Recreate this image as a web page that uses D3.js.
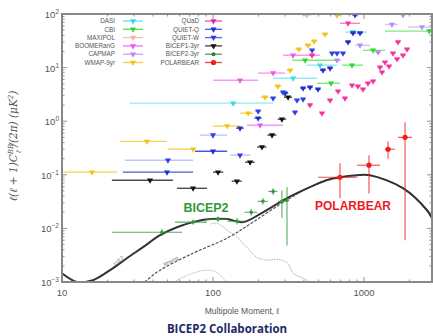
<!DOCTYPE html>
<html>
<head>
<meta charset="utf-8">
<script src="https://cdn.jsdelivr.net/npm/d3@7"></script>
<style>
  body { margin: 0; background: #fff; }
  svg { display: block; font-family: "Liberation Sans", Arial, sans-serif; }
</style>
</head>
<body>
<svg id="chart" width="433" height="336"></svg>
<script>
// upper limits, each point: [ell, value (uK^2), ellLo, ellHi]
var dasi = [[136, 2.17, 28, 250], [339, 6.34, 250, 489], [511, 11.1, 419, 663], [846, 46, 748, 1047]];
var cbi = [[407, 13.7, 334, 693], [605, 5.1, 489, 693], [833, 11.1, 715, 985], [1148, 21, 985, 1377], [2700, 48, 1377, 3500]];
var maxipol = [[419, 96, 390, 450]];
var boomerang = [[151, 5.8, 100, 199], [205, 0.84, 168, 291], [250, 7.9, 199, 300], [339, 17, 291, 511]];
var capmap = [[663, 13.7, 630, 700], [941, 26, 872, 1096], [1239, 19.4, 1180, 1300], [1532, 64, 1377, 1680], [2422, 57, 1956, 2820], [1812, 96, 1750, 1880]];
var wmap = [[15.8, 0.112, 10.2, 23.1], [36.5, 0.42, 24.2, 49.6], [73.8, 0.30, 50.3, 76.1], [124, 0.81, 100, 151],
  [171, 1.41, 151, 184], [221, 2.8, 208, 234], [269, 4.5, 255, 284], [324, 8.9, 308, 340], [370, 22, 352, 388],
  [426, 26, 406, 446], [467, 31, 446, 490], [552, 42, 527, 578], [663, 95, 635, 693]];
var quad = [[439, 2.0], [527, 1.41], [596, 2.46], [673, 3.63], [748, 2.69], [833, 4.7], [912, 4.5], [985, 3.95],
  [1062, 5.12], [1148, 5.57], [1276, 10.2], [1316, 8.2], [1377, 12.6], [1465, 10.6], [1556, 18.6], [1655, 14.4],
  [1812, 17], [1927, 22], [1680, 30], [453, 17], [784, 67, 693, 941]];
var quietQ = [[49.6, 0.112, 25.3, 73.8], [100, 0.275, 76, 124], [151, 0.74, 142, 160], [199, 1.14, 188, 210],
  [300, 3.33, 285, 315], [395, 4.13, 378, 412], [439, 4.31, 420, 458], [496, 3.95, 475, 517], [535, 8.9, 512, 558],
  [596, 9.75, 570, 622], [784, 30, 750, 820], [846, 44, 810, 884], [941, 44, 900, 984], [872, 96, 835, 910]];
var quietW = [[50.3, 0.187, 26.1, 73.8], [100, 0.55, 82, 124], [151, 0.232, 130, 176], [199, 1.54, 188, 210],
  [250, 2.69, 238, 262], [291, 3.48, 277, 305], [360, 2.46, 344, 376], [395, 2.57, 378, 412], [349, 1.47, 334, 364],
  [453, 21, 434, 472], [614, 18.6, 590, 640], [663, 18.6, 637, 690], [726, 18.6, 698, 756]];
var bicep1 = [[38.3, 0.079, 21.4, 54.3], [73.8, 0.056, 57.8, 91.3], [108, 0.112, 100, 117], [144, 0.076, 133, 155],
  [176, 0.172, 163, 189], [211, 0.33, 196, 226], [246, 0.55, 229, 263], [286, 1.09, 268, 305], [314, 2.8, 295, 334]];

// detections: [ell, value, valueLo, valueHi, ellLo, ellHi]
var bicep2 = [[45.9, 0.0085, 0.0072, 0.0099, 21.4, 62.3], [73.8, 0.0131, 0.0117, 0.0147, 56, 91],
  [108, 0.0149, 0.0133, 0.0167, 90, 125], [144, 0.0136, 0.0118, 0.0156, 125, 160], [179, 0.020, 0.0172, 0.0232, 162, 196],
  [214, 0.032, 0.0276, 0.0368, 197, 231], [250, 0.049, 0.042, 0.056, 232, 267], [286, 0.032, 0.0156, 0.0515, 270, 302],
  [309, 0.0336, 0.0048, 0.059, 300, 318]];
var polarbear = [[693, 0.090, 0.0366, 0.164, 496, 900], [1079, 0.151, 0.045, 0.232, 900, 1276],
  [1443, 0.30, 0.20, 0.42, 1377, 1600], [1870, 0.50, 0.006, 0.958, 1680, 2080]];

// theory curves: [ell, value]
var totalCurve = [[10, 0.00146], [12.6, 0.00100], [16, 0.00108], [20.8, 0.00166], [26.9, 0.00278], [34.4, 0.00447],
  [44.6, 0.00747], [57.7, 0.0105], [73.7, 0.0131], [95.6, 0.0149], [123.7, 0.0149], [158, 0.0131], [204, 0.0184],
  [309, 0.0366], [438, 0.0587], [565, 0.0794], [897, 0.098], [1095, 0.098], [1819, 0.056], [2615, 0.0218], [2820, 0.0155]];
var lensingCurve = [[30, 0.0007], [34.4, 0.00095], [44.6, 0.00166], [73.7, 0.00344], [123.7, 0.00656], [184, 0.0131],
  [309, 0.034], [438, 0.0587], [565, 0.0794], [897, 0.098], [1095, 0.098], [1819, 0.056], [2615, 0.0218], [2820, 0.0155]];
var tensorCurve = [[95.6, 0.0120], [106, 0.0125], [124, 0.00925], [144, 0.00686], [167, 0.00446], [195, 0.0029],
  [229, 0.00255], [268, 0.00266], [312, 0.00224], [339, 0.00146], [395, 0.00118], [460, 0.00092]];
var smallArc = [[50, 0.0008], [57.7, 0.00108], [73.7, 0.00146], [91.3, 0.00166], [106, 0.00151], [120, 0.00108], [128, 0.0009]];

var legendLeft = ["DASI", "CBI", "MAXIPOL", "BOOMERanG", "CAPMAP", "WMAP-9yr"];
var legendRight = ["QUaD", "QUIET-Q", "QUIET-W", "BICEP1-3yr", "BICEP2-3yr", "POLARBEAR"];

var yTicks = [1e-3, 1e-2, 1e-1, 1e0, 1e1, 1e2];
var xTicks = [10, 100, 1000];

var svg = d3.select("#chart");
var x = d3.scaleLog().domain([10, 2820]).range([62, 432]);
var y = d3.scaleLog().domain([1e-3, 1e2]).range([282, 14]);

svg.append("clipPath").attr("id", "plotclip")
  .append("rect").attr("x", 62).attr("y", 14).attr("width", 370).attr("height", 268);

var plot = svg.append("g").attr("clip-path", "url(#plotclip)");

// theory curves
var line = d3.line()
  .x(function(d) { return x(d[0]); })
  .y(function(d) { return y(d[1]); })
  .curve(d3.curveCatmullRom);

plot.append("path").datum(smallArc).attr("d", line)
  .attr("fill", "none").attr("stroke", "#aaa").attr("stroke-width", 0.8).attr("stroke-dasharray", "1.5,1");
plot.append("path").datum(tensorCurve).attr("d", line)
  .attr("fill", "none").attr("stroke", "#999").attr("stroke-width", 0.8).attr("stroke-dasharray", "1.5,1");
plot.append("path").datum(lensingCurve).attr("d", line)
  .attr("fill", "none").attr("stroke", "#555").attr("stroke-width", 1.2).attr("stroke-dasharray", "3,1.5");
plot.append("path").datum(totalCurve).attr("d", line)
  .attr("fill", "none").attr("stroke", "#333").attr("stroke-width", 2);

// upper limit series
var tri = d3.symbol().type(d3.symbolTriangle).size(16);

function limits(data, color, barOpacity) {
  var g = plot.append("g");
  g.selectAll("line").data(data).enter().append("line")
    .attr("x1", function(d) { return x(d[2] || d[0] * 0.96); })
    .attr("x2", function(d) { return x(d[3] || d[0] * 1.04); })
    .attr("y1", function(d) { return y(d[1]); })
    .attr("y2", function(d) { return y(d[1]); })
    .attr("stroke", color).attr("stroke-width", 1.4).attr("stroke-opacity", barOpacity);
  g.selectAll("path").data(data).enter().append("path")
    .attr("d", tri)
    .attr("transform", function(d) { return "translate(" + x(d[0]) + "," + y(d[1]) + ") rotate(180)"; })
    .attr("fill", color);
}

limits(dasi, "#36dbe6", 0.55);
limits(cbi, "#2bdc2b", 0.6);
limits(maxipol, "#f5b0ab", 0.6);
limits(boomerang, "#f055f0", 0.6);
limits(capmap, "#b88cf2", 0.55);
limits(wmap, "#f2c418", 0.75);
limits(quad, "#f2349c", 0.6);
limits(quietQ, "#1f2fcf", 0.8);
limits(quietW, "#2f3fe0", 0.3);
limits(bicep1, "#111", 0.75);

// detections with error bars
function detections(data, color, r) {
  var g = plot.append("g");
  g.selectAll("line.h").data(data).enter().append("line").attr("class", "h")
    .attr("x1", function(d) { return x(d[4]); })
    .attr("x2", function(d) { return x(d[5]); })
    .attr("y1", function(d) { return y(d[1]); })
    .attr("y2", function(d) { return y(d[1]); })
    .attr("stroke", color).attr("stroke-width", 1.1).attr("stroke-opacity", 0.8);
  g.selectAll("line.v").data(data).enter().append("line").attr("class", "v")
    .attr("x1", function(d) { return x(d[0]); })
    .attr("x2", function(d) { return x(d[0]); })
    .attr("y1", function(d) { return y(d[2]); })
    .attr("y2", function(d) { return y(d[3]); })
    .attr("stroke", color).attr("stroke-width", 1.1).attr("stroke-opacity", 0.8);
  g.selectAll("circle").data(data).enter().append("circle")
    .attr("cx", function(d) { return x(d[0]); })
    .attr("cy", function(d) { return y(d[1]); })
    .attr("r", r).attr("fill", color);
}

detections(bicep2, "#2f9a3a", 1.8);
detections(polarbear, "#ee1c1c", 2.6);

// frame and ticks
var axes = svg.append("g").attr("fill", "none").attr("stroke", "#777").attr("stroke-width", 0.8);

var xMinor = [], yMinor = [];
[10, 100, 1000].forEach(function(p) {
  for (var k = 2; k <= 9; k++) { if (p * k <= 2820) xMinor.push(p * k); }
});
[1e-3, 1e-2, 1e-1, 1, 10].forEach(function(p) {
  for (var k = 2; k <= 9; k++) yMinor.push(p * k);
});

function xTickMarks(vals, len) {
  vals.forEach(function(v) {
    axes.append("line").attr("x1", x(v)).attr("x2", x(v)).attr("y1", 282).attr("y2", 282 - len);
    axes.append("line").attr("x1", x(v)).attr("x2", x(v)).attr("y1", 14).attr("y2", 14 + len);
  });
}
function yTickMarks(vals, len) {
  vals.forEach(function(v) {
    axes.append("line").attr("y1", y(v)).attr("y2", y(v)).attr("x1", 62).attr("x2", 62 + len);
    axes.append("line").attr("y1", y(v)).attr("y2", y(v)).attr("x1", 432).attr("x2", 432 - len);
  });
}
xTickMarks(xTicks, 5);
xTickMarks(xMinor, 2.5);
yTickMarks(yTicks, 5);
yTickMarks(yMinor, 2.5);

svg.append("rect").attr("x", 62).attr("y", 14).attr("width", 370).attr("height", 268)
  .attr("fill", "none").attr("stroke", "#888").attr("stroke-width", 2);

// tick labels
var yl = svg.append("g").attr("fill", "#555").attr("font-size", 9.5).attr("text-anchor", "end");
yTicks.forEach(function(v) {
  var t = yl.append("text").attr("x", 59).attr("y", y(v) + 4);
  t.append("tspan").text("10");
  t.append("tspan").attr("dy", -4).attr("font-size", 6.5).text(String(Math.round(Math.log10(v))).replace("-", "\u2212"));
});
var xl = svg.append("g").attr("fill", "#555").attr("font-size", 9.5).attr("text-anchor", "middle");
xTicks.forEach(function(v) {
  xl.append("text").attr("x", x(v)).attr("y", 296).text(String(v));
});

// axis titles
svg.append("text").attr("x", 242).attr("y", 314).attr("text-anchor", "middle")
  .attr("fill", "#555").attr("font-size", 8.5).text("Multipole Moment, \u2113");

var yt = svg.append("text").attr("transform", "translate(17,146) rotate(-90)")
  .attr("text-anchor", "middle").attr("fill", "#555").attr("font-size", 10.5)
  .attr("font-family", "DejaVu Serif, serif").attr("font-style", "italic");
yt.append("tspan").text("\u2113(\u2113 + 1)C");
yt.append("tspan").attr("dy", -4).attr("font-size", 7).text("BB");
yt.append("tspan").attr("dx", -9).attr("dy", 8).attr("font-size", 7).text("\u2113");
yt.append("tspan").attr("dy", -4).text(" /(2\u03c0)  (\u03bcK");
yt.append("tspan").attr("dy", -4).attr("font-size", 7).text("2");
yt.append("tspan").attr("dy", 4).text(")");

// curve labels
svg.append("text").attr("transform", "translate(" + x(24) + "," + y(0.0024) + ") rotate(-38)")
  .attr("fill", "#666").attr("font-size", 5).attr("text-anchor", "middle").text("r=0.2");
svg.append("text").attr("transform", "translate(" + x(53) + "," + y(0.0023) + ") rotate(-26)")
  .attr("fill", "#666").attr("font-size", 5).attr("text-anchor", "middle").text("lensing");

// experiment annotations
svg.append("text").attr("x", 206).attr("y", 212).attr("text-anchor", "middle")
  .attr("fill", "#2f9a3a").attr("font-size", 12.5).attr("font-weight", "bold").text("BICEP2");
svg.append("text").attr("x", 353).attr("y", 210).attr("text-anchor", "middle")
  .attr("fill", "#ee1c1c").attr("font-size", 12).attr("font-weight", "bold").text("POLARBEAR");

// legend
var leftColors = ["#36dbe6", "#2bdc2b", "#f5b0ab", "#f055f0", "#b88cf2", "#f2c418"];
var rightColors = ["#e8239a", "#1f2fcf", "#2f3fe0", "#111", "#2f7a3a", "#ee1c1c"];
var leg = svg.append("g").attr("font-size", 6.3).attr("fill", "#555");

function legendColumn(names, colors, textX, x1, x2) {
  names.forEach(function(n, i) {
    var yy = 21 + i * 8.3;
    leg.append("text").attr("x", textX).attr("y", yy + 2.2).attr("text-anchor", "end").text(n);
    leg.append("line").attr("x1", x1).attr("x2", x2).attr("y1", yy).attr("y2", yy)
      .attr("stroke", colors[i]).attr("stroke-width", 1.3).attr("stroke-opacity", 0.8);
    if (n === "POLARBEAR" || n === "BICEP2-3yr") {
      leg.append("circle").attr("cx", (x1 + x2) / 2).attr("cy", yy).attr("r", n === "POLARBEAR" ? 2.6 : 2)
        .attr("fill", colors[i]);
    } else {
      leg.append("path").attr("d", tri)
        .attr("transform", "translate(" + (x1 + x2) / 2 + "," + yy + ") rotate(180)")
        .attr("fill", colors[i]);
    }
  });
}
legendColumn(legendLeft, leftColors, 115, 123, 143);
legendColumn(legendRight, rightColors, 199, 205, 222);

// footer
svg.append("text").attr("x", 227).attr("y", 333).attr("text-anchor", "middle")
  .attr("fill", "#1c2a66").attr("font-size", 11.5).attr("font-weight", "bold")
  .attr("font-family", "Open Sans, sans-serif").text("BICEP2 Collaboration");
</script>
</body>
</html>
